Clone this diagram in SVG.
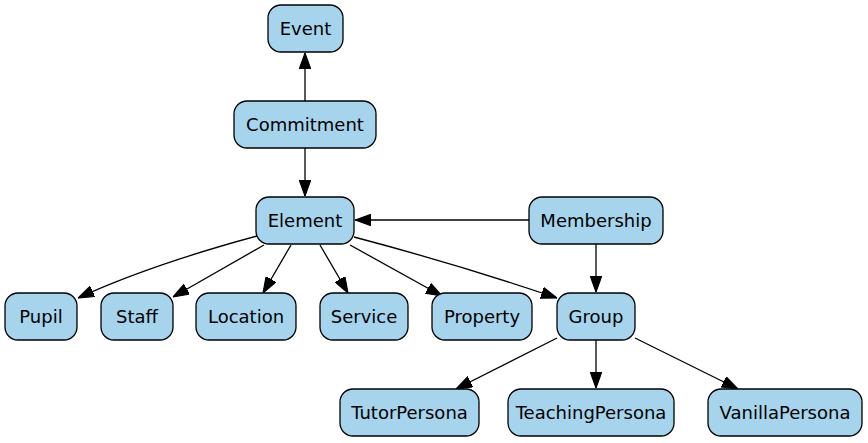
<svg xmlns="http://www.w3.org/2000/svg" width="868" height="443" viewBox="0 0 868 443">
<style>
.n rect{fill:#a6d4ed;stroke:#000;stroke-width:1.3}
.n text{font-family:"DejaVu Sans",sans-serif;font-size:18px;text-anchor:middle;fill:#000}
.e path{fill:none;stroke:#000;stroke-width:1.3;marker-end:url(#ah)}
</style>
<defs>
<marker id="ah" markerUnits="userSpaceOnUse" markerWidth="16" markerHeight="12" viewBox="0 0 14 10" refX="14" refY="5" orient="auto">
<path d="M0,0 L14,5 L0,10 Z" fill="#000" stroke="#000" stroke-width="1"/>
</marker>
</defs>
<rect width="868" height="443" fill="#fff"/>
<g id="edges" class="e">
<path d="M305,101 L305,53"/>
<path d="M305,148 L305,196"/>
<path d="M529,220 L355,220"/>
<path d="M596,244 L596,292"/>
<path d="M257,236 Q150,265 78,298"/>
<path d="M264,245 L173,297"/>
<path d="M291,245 L263,293"/>
<path d="M320,245 L348,293"/>
<path d="M350,245 L442,296"/>
<path d="M354,237 Q460,265 557,298"/>
<path d="M557,338 L456,389"/>
<path d="M596,340 L596,388"/>
<path d="M635,338 L738,389"/>
</g>
<g id="Event" class="n"><rect x="268" y="5" width="75" height="47" rx="13"/><text x="305.5" y="34.5">Event</text></g>
<g id="Commitment" class="n"><rect x="234" y="101" width="142" height="47" rx="13"/><text x="305" y="130.5">Commitment</text></g>
<g id="Element" class="n"><rect x="256" y="197" width="98" height="47" rx="13"/><text x="305" y="226.5">Element</text></g>
<g id="Membership" class="n"><rect x="529" y="197" width="134" height="47" rx="13"/><text x="596" y="226.5">Membership</text></g>
<g id="Pupil" class="n"><rect x="5" y="293" width="72" height="47" rx="13"/><text x="41" y="322.5">Pupil</text></g>
<g id="Staff" class="n"><rect x="101" y="293" width="72" height="47" rx="13"/><text x="137" y="322.5">Staff</text></g>
<g id="Location" class="n"><rect x="196" y="293" width="100" height="47" rx="13"/><text x="246" y="322.5">Location</text></g>
<g id="Service" class="n"><rect x="320" y="293" width="88" height="47" rx="13"/><text x="364" y="322.5">Service</text></g>
<g id="Property" class="n"><rect x="432" y="293" width="100" height="47" rx="13"/><text x="482" y="322.5">Property</text></g>
<g id="Group" class="n"><rect x="557" y="293" width="78" height="47" rx="13"/><text x="596" y="322.5">Group</text></g>
<g id="TutorPersona" class="n"><rect x="340" y="389" width="139" height="47" rx="13"/><text x="409.5" y="418.5">TutorPersona</text></g>
<g id="TeachingPersona" class="n"><rect x="508" y="389" width="166" height="47" rx="13"/><text x="591" y="418.5">TeachingPersona</text></g>
<g id="VanillaPersona" class="n"><rect x="708" y="389" width="154" height="47" rx="13"/><text x="785" y="418.5">VanillaPersona</text></g>
</svg>
